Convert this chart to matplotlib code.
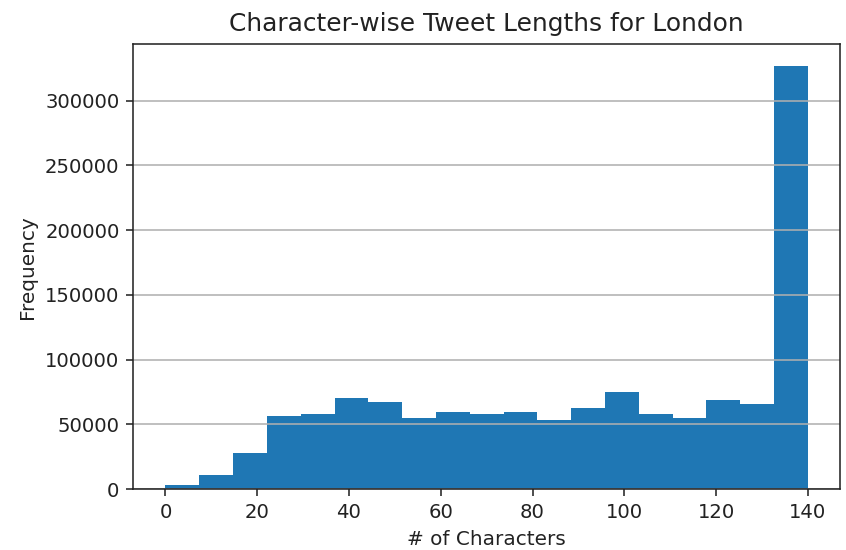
import numpy as np
import matplotlib
matplotlib.use("Agg")
import matplotlib.pyplot as plt

# Histogram data (19 equal bins from 0 to 140)
bin_edges = np.linspace(0, 140, 20)
counts = [3300, 11300, 28200, 56400, 58200, 70500, 67400, 55100, 59700, 58200,
          59700, 53300, 62800, 75400, 58200, 54800, 69000, 66100, 327000]

title = "Character-wise Tweet Lengths for London"
xlabel = "# of Characters"
ylabel = "Frequency"

fig = plt.figure(figsize=(846 / 141, 550 / 141), dpi=141)
ax = fig.add_axes([0.1576, 0.1104, 0.9929 - 0.1576, 0.9194 - 0.1104])

centers = (bin_edges[:-1] + bin_edges[1:]) / 2
ax.hist(centers, bins=bin_edges, weights=counts, color="#1f77b4")
ax.yaxis.grid(True, color="#b0b0b0", linewidth=0.8)
ax.set_title(title, fontsize=12.7, color="#222222", pad=7)
ax.set_xlabel(xlabel, fontsize=10.2, color="#222222")
ax.set_ylabel(ylabel, fontsize=10.2, color="#222222")
ax.tick_params(labelsize=10, labelcolor="#222222", color="#222222")
for s in ax.spines.values():
    s.set_color("#222222")
ax.set_xticks([0, 20, 40, 60, 80, 100, 120, 140])

fig.savefig("out.png", dpi=141)
